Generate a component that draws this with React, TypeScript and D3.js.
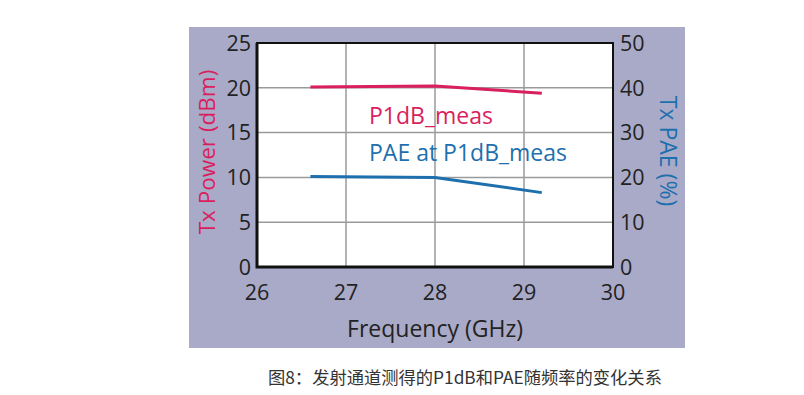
import React, { useEffect, useRef } from 'react'
import * as d3 from 'd3'

// frequency (GHz) for the measured points
const freqs = [26.6, 28.0, 29.2]
// Tx power at P1dB (dBm), left axis
const p1dbMeas = [20.1, 20.2, 19.4]
// PAE at P1dB (%), right axis
const paeMeas = [20.2, 20.0, 16.6]

const xTicks = [26, 27, 28, 29, 30]
const yLeftTicks = [0, 5, 10, 15, 20, 25]
const yRightTicks = [0, 10, 20, 30, 40, 50]

const PINK = '#d91f5d'
const BLUE = '#1e6fae'
const FONT = '"Open Sans", "Noto Sans", sans-serif'

export default function App() {
  const svgRef = useRef<SVGSVGElement | null>(null)

  useEffect(() => {
    const svg = d3.select(svgRef.current)
    svg.selectAll('*').remove()

    const W = 804
    const H = 395

    svg.append('rect').attr('width', W).attr('height', H).attr('fill', '#fff')

    // lavender panel behind the chart
    svg.append('rect')
      .attr('x', 189).attr('y', 27)
      .attr('width', 496).attr('height', 321)
      .attr('fill', '#a9aac8')

    const plot = { left: 257, top: 43, right: 613, bottom: 267 }

    const x = d3.scaleLinear().domain([26, 30]).range([plot.left, plot.right])
    const yL = d3.scaleLinear().domain([0, 25]).range([plot.bottom, plot.top])
    const yR = d3.scaleLinear().domain([0, 50]).range([plot.bottom, plot.top])

    svg.append('rect')
      .attr('x', plot.left).attr('y', plot.top)
      .attr('width', plot.right - plot.left).attr('height', plot.bottom - plot.top)
      .attr('fill', '#fff')

    // grid
    const grid = svg.append('g').attr('stroke', '#9a9a9a').attr('stroke-width', 1.5)
    grid.selectAll('line.v')
      .data(xTicks.slice(1, -1))
      .join('line')
      .attr('class', 'v')
      .attr('x1', d => x(d)).attr('x2', d => x(d))
      .attr('y1', plot.top).attr('y2', plot.bottom)
    grid.selectAll('line.h')
      .data(yLeftTicks.slice(1, -1))
      .join('line')
      .attr('class', 'h')
      .attr('x1', plot.left).attr('x2', plot.right)
      .attr('y1', d => yL(d)).attr('y2', d => yL(d))

    // frame
    svg.append('rect')
      .attr('x', plot.left).attr('y', plot.top)
      .attr('width', plot.right - plot.left).attr('height', plot.bottom - plot.top)
      .attr('fill', 'none').attr('stroke', '#111').attr('stroke-width', 2)
    svg.append('path')
      .attr('d', `M${plot.left},${plot.top}V${plot.bottom}H${plot.right}`)
      .attr('fill', 'none').attr('stroke', '#111').attr('stroke-width', 3)

    // tick labels
    svg.append('g').selectAll('text')
      .data(yLeftTicks)
      .join('text')
      .attr('x', 251).attr('y', d => yL(d))
      .attr('dy', '0.36em')
      .attr('text-anchor', 'end')
      .attr('font-family', FONT).attr('font-size', 21.5).attr('fill', '#222')
      .text(d => d)

    svg.append('g').selectAll('text')
      .data(yRightTicks)
      .join('text')
      .attr('x', 620).attr('y', d => yR(d))
      .attr('dy', '0.36em')
      .attr('font-family', FONT).attr('font-size', 21.5).attr('fill', '#222')
      .text(d => d)

    svg.append('g').selectAll('text')
      .data(xTicks)
      .join('text')
      .attr('x', d => x(d)).attr('y', 300)
      .attr('text-anchor', 'middle')
      .attr('font-family', FONT).attr('font-size', 21.5).attr('fill', '#222')
      .text(d => d)

    // axis titles
    svg.append('text')
      .attr('transform', 'translate(215,152) rotate(-90)')
      .attr('text-anchor', 'middle')
      .attr('font-family', FONT).attr('font-size', 22.5).attr('fill', PINK)
      .text('Tx Power (dBm)')

    svg.append('text')
      .attr('transform', 'translate(660,151) rotate(90)')
      .attr('text-anchor', 'middle')
      .attr('font-family', FONT).attr('font-size', 23).attr('fill', BLUE)
      .text('Tx PAE (%)')

    svg.append('text')
      .attr('x', x(28)).attr('y', 337)
      .attr('text-anchor', 'middle')
      .attr('font-family', FONT).attr('font-size', 23).attr('fill', '#222')
      .text('Frequency (GHz)')

    // series
    const lineL = d3.line<number>().x((_, i) => x(freqs[i])).y(d => yL(d))
    const lineR = d3.line<number>().x((_, i) => x(freqs[i])).y(d => yR(d))

    svg.append('path')
      .datum(p1dbMeas)
      .attr('d', lineL)
      .attr('fill', 'none').attr('stroke', PINK).attr('stroke-width', 3)

    svg.append('path')
      .datum(paeMeas)
      .attr('d', lineR)
      .attr('fill', 'none').attr('stroke', BLUE).attr('stroke-width', 3)

    // in-plot labels
    svg.append('text')
      .attr('x', 369).attr('y', 124)
      .attr('font-family', FONT).attr('font-size', 23).attr('fill', PINK)
      .text('P1dB_meas')
    svg.append('text')
      .attr('x', 369).attr('y', 161)
      .attr('font-family', FONT).attr('font-size', 23).attr('fill', BLUE)
      .text('PAE at P1dB_meas')

    // caption
    svg.append('text')
      .attr('x', 268).attr('y', 384)
      .attr('font-family', '"Noto Sans CJK SC", sans-serif').attr('font-size', 17.3).attr('fill', '#333')
      .text('图8：发射通道测得的P1dB和PAE随频率的变化关系')
  }, [])

  return (
    <svg
      ref={svgRef}
      width={804}
      height={395}
      style={{ position: 'absolute', left: 0, top: 0, display: 'block' }}
    />
  )
}
